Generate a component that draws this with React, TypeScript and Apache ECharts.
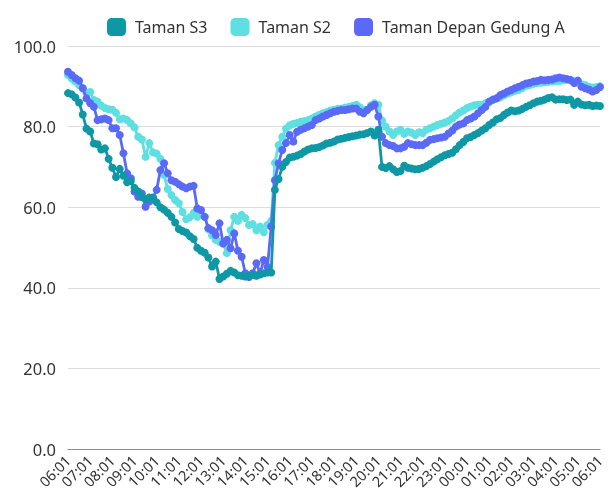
import React, { useEffect, useRef } from "react";
import * as echarts from "echarts";

const seriesNames = ["Taman S3", "Taman S2", "Taman Depan Gedung A"];
const colors = ["#0e98a5", "#5edfe2", "#5b6af6"];
const yTicks = [0, 20, 40, 60, 80, 100];

const tamanS3 = [
  88.3, 88.0, 87.2, 86.0, 83.0, 79.5, 78.8, 75.8, 75.6, 74.3,
  74.6, 72.0, 69.8, 67.5, 69.5, 67.8, 66.2, 66.5, 64.8, 63.9,
  62.5, 62.0, 62.4, 62.3, 61.2, 60.0, 59.4, 58.6, 57.6, 56.2,
  54.6, 54.1, 53.7, 52.8, 52.1, 49.9, 49.2, 48.7, 47.5, 45.3,
  46.5, 42.2, 42.8, 43.5, 44.2, 43.8, 43.1, 43.0, 42.8, 42.9,
  43.2, 43.0, 43.3, 43.6, 43.8, 43.8, 64.3, 67.0, 70.0, 71.2,
  72.3, 72.5, 72.8, 73.2, 73.8, 74.3, 74.6, 74.7, 74.9, 75.3,
  75.8, 76.0, 76.3, 76.8, 77.0, 77.2, 77.4, 77.6, 77.8, 78.0,
  78.1, 78.4, 78.8, 77.8, 79.2, 70.0, 69.7, 70.2, 69.4, 68.7,
  69.0, 70.3, 69.8, 69.6, 69.4, 69.5, 69.8, 70.2, 70.7, 71.3,
  71.9, 72.4, 72.9, 73.2, 73.5, 74.4, 75.4, 76.2, 77.1, 77.4,
  77.9, 78.4, 79.0, 79.6, 80.4, 81.0, 81.8, 82.1, 82.9, 83.5,
  84.0, 83.8, 84.0, 84.4, 84.9, 85.3, 85.8, 86.2, 86.4, 86.7,
  87.1, 87.3, 86.7, 86.8, 86.8, 86.6, 86.7, 85.4, 86.2, 85.5,
  85.3, 85.4, 85.1, 85.2, 85.1,
];

const tamanS2 = [
  92.8, 91.9, 91.2, 90.3, 89.5, 88.3, 88.6, 86.6, 86.2, 85.2,
  84.6, 84.3, 84.2, 83.4, 81.8, 82.0, 81.6, 80.8, 79.8, 77.5,
  76.8, 72.5, 75.9, 73.6, 73.3, 72.0, 68.0, 64.5, 63.0, 61.8,
  61.0, 58.8, 57.0, 57.5, 58.6, 57.6, 58.4, 57.6, 54.5, 53.0,
  51.9, 51.4, 51.0, 48.6, 54.3, 57.6, 56.6, 58.1, 57.3, 55.6,
  55.8, 54.3, 55.2, 53.8, 55.6, 56.6, 71.0, 75.4, 77.5, 79.5,
  80.3, 80.7, 80.9, 81.2, 81.4, 81.6, 82.0, 82.5, 82.9, 83.3,
  83.6, 84.0, 84.2, 84.4, 84.5, 84.7, 84.9, 85.1, 85.4, 84.8,
  84.1, 84.2, 85.3, 85.8, 85.4, 81.5, 80.0, 78.8, 77.9, 78.8,
  79.2, 78.2, 78.8, 78.5, 77.9, 78.6, 78.4, 79.2, 79.6, 80.0,
  80.4, 80.7, 81.0, 81.4, 82.0, 82.8, 83.5, 84.0, 84.6, 85.0,
  85.3, 85.4, 85.4, 85.8, 86.1, 86.6, 87.0, 87.3, 87.8, 88.2,
  88.5, 88.9, 89.1, 89.6, 90.1, 90.3, 90.6, 90.8, 90.9, 91.0,
  91.1, 91.2, 91.3, 91.3, 91.5, 91.6, 91.4, 91.3, 90.9, 90.5,
  90.3, 89.9, 89.7, 89.8, 90.0,
];

const tamanDepan = [
  93.6, 92.8, 92.0, 91.4, 89.5, 87.0, 85.8, 84.9, 81.6, 81.8,
  82.0, 81.6, 79.6, 79.6, 77.9, 73.4, 68.4, 67.2, 63.9, 62.6,
  63.4, 60.1, 61.4, 62.4, 64.3, 69.2, 70.9, 68.4, 66.7, 66.3,
  65.7, 65.1, 64.7, 65.1, 65.3, 59.7, 59.3, 57.6, 54.8, 54.3,
  53.1, 56.0, 51.0, 51.9, 49.8, 53.5, 49.2, 47.7, 43.6, 42.7,
  43.6, 46.1, 43.6, 46.9, 45.2, 55.2, 66.7, 70.9, 74.2, 75.9,
  77.9, 76.3, 78.7, 79.2, 79.6, 80.0, 80.4, 81.6, 82.0, 82.5,
  82.9, 83.3, 83.7, 83.9, 84.1, 84.1, 84.3, 84.5, 84.5, 83.7,
  83.3, 84.1, 84.9, 85.4, 82.5, 77.5, 75.9, 75.4, 75.2, 74.6,
  74.6, 75.0, 75.9, 75.6, 75.4, 75.4, 75.4, 76.0, 76.7, 76.9,
  77.1, 77.3, 77.5, 78.3, 79.0, 80.0, 80.5, 80.8, 81.6, 82.0,
  82.5, 83.3, 84.1, 84.9, 86.2, 86.7, 87.0, 87.8, 88.2, 88.7,
  89.1, 89.5, 89.9, 90.3, 90.7, 90.9, 91.2, 91.3, 91.6, 91.5,
  91.6, 91.7, 92.0, 92.2, 92.0, 91.8, 91.6, 90.8, 91.4, 89.9,
  89.5, 89.2, 88.7, 89.1, 89.8,
];

// time categories every 10 minutes from 06:01 to 06:01 next day
const startHour = 6;
const startMinute = 1;
const stepMinutes = 10;
const times: string[] = tamanS3.map((_, i) => {
  const total = startHour * 60 + startMinute + i * stepMinutes;
  const h = Math.floor(total / 60) % 24;
  const m = total % 60;
  return `${String(h).padStart(2, "0")}:${String(m).padStart(2, "0")}`;
});

const seriesData = [tamanS3, tamanS2, tamanDepan];

export default function App() {
  const ref = useRef<HTMLDivElement>(null);
  useEffect(() => {
    if (!ref.current) return;
    const chart = echarts.init(ref.current, null, { renderer: "svg" });
    const font = "'Noto Sans', 'Open Sans', sans-serif";
    chart.setOption({
      animation: false,
      color: colors,
      textStyle: { fontFamily: font },
      legend: {
        top: 13,
        left: 102,
        icon: "roundRect",
        itemWidth: 19,
        itemHeight: 18,
        itemGap: 23,
        textStyle: {
          fontSize: 16,
          color: "#333",
          fontFamily: font,
          padding: [0, 0, 0, 4],
        },
        data: seriesNames,
      },
      grid: { left: 68, right: 14, top: 46, bottom: 50, containLabel: false },
      xAxis: {
        type: "category",
        data: times,
        boundaryGap: false,
        axisLine: { lineStyle: { color: "#8c8c8c", width: 1.2 } },
        axisTick: { show: false },
        axisLabel: {
          interval: 5,
          rotate: 45,
          fontSize: 14.5,
          color: "#333",
          margin: 9,
          fontFamily: font,
        },
      },
      yAxis: {
        type: "value",
        min: yTicks[0],
        max: yTicks[yTicks.length - 1],
        interval: 20,
        axisLine: { show: false },
        axisTick: { show: false },
        splitLine: { lineStyle: { color: "#dcdcdc", width: 1.2 } },
        axisLabel: {
          fontSize: 16.5,
          color: "#333",
          margin: 12,
          fontFamily: font,
          formatter: (v: number) => v.toFixed(1),
        },
      },
      series: seriesNames.map((name, k) => ({
        name,
        type: "line",
        data: seriesData[k],
        symbol: "circle",
        symbolSize: 8,
        showSymbol: true,
        showAllSymbol: true,
        lineStyle: { width: 2.8 },
        itemStyle: { color: colors[k] },
        z: k === 0 ? 4 : k === 1 ? 2 : 3,
      })),
    });
    return () => chart.dispose();
  }, []);
  return (
    <div
      ref={ref}
      style={{ position: "fixed", left: 0, top: 0, width: 614, height: 499 }}
    />
  );
}
